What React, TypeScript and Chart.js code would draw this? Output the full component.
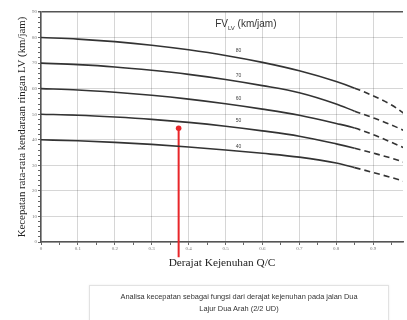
import React, { useEffect, useRef } from "react";
import { Chart, registerables } from "chart.js";

Chart.register(...registerables);

// Data
const qcValues = [0, 0.1, 0.2, 0.3, 0.4, 0.5, 0.6, 0.7, 0.8, 0.85, 0.9, 0.95, 1.0];
const fvLabels = ["80", "70", "60", "50", "40"];
const speed80 = [80, 79.4, 78.4, 77, 75.2, 73, 70.3, 67, 62.8, 60.2, 57.2, 53.6, 48.6];
const speed70 = [70, 69.4, 68.5, 67.2, 65.6, 63.6, 61.2, 58.4, 54, 51.2, 48.6, 45.8, 42.5];
const speed60 = [60, 59.5, 58.6, 57.4, 55.9, 54.1, 52, 49.6, 46.4, 44.6, 42, 39, 35.8];
const speed50 = [50, 49.6, 48.9, 48, 46.8, 45.3, 43.5, 41.4, 38.4, 36.7, 34.8, 32.8, 30.5];
const speed40 = [40, 39.6, 39, 38.2, 37.2, 36, 34.7, 33.2, 30.9, 29.1, 27.2, 25.2, 23.1];
const solidLimit = 0.85;
const labelQc = 0.535;
const labelSpeed = [75, 65.2, 56.2, 47.3, 37.5];
const headerQc = 0.472;
const headerSpeed = 85.2;
const markerQc = [0.373, 0.373];
const markerSpeed = [44.5, -6];
const captionLines = [
  "Analisa kecepatan sebagai fungsi dari derajat kejenuhan pada jalan Dua",
  "Lajur Dua Arah (2/2 UD)",
];

const allSpeeds = [speed80, speed70, speed60, speed50, speed40];

const labelPlugin = {
  id: "curveLabels",
  afterDatasetsDraw(chart: any) {
    const { ctx, scales } = chart;
    const x = scales.x;
    const y = scales.y;
    ctx.save();
    ctx.fillStyle = "#444";
    ctx.textAlign = "center";
    ctx.textBaseline = "middle";
    ctx.font = '5px "Liberation Sans"';
    fvLabels.forEach((t, i) => {
      ctx.fillText(t, x.getPixelForValue(labelQc), y.getPixelForValue(labelSpeed[i]));
    });
    const hx = x.getPixelForValue(headerQc);
    const hy = y.getPixelForValue(headerSpeed);
    ctx.textAlign = "left";
    ctx.fillStyle = "#333";
    ctx.font = '10px "Liberation Sans"';
    ctx.fillText("FV", hx, hy);
    let w = ctx.measureText("FV").width;
    ctx.font = '6px "Liberation Sans"';
    ctx.fillText("LV", hx + w, hy + 4);
    w += ctx.measureText("LV").width;
    ctx.font = '10px "Liberation Sans"';
    ctx.fillText(" (km/jam)", hx + w, hy);
    ctx.restore();
  },
};

export default function App() {
  const ref = useRef<HTMLCanvasElement | null>(null);

  useEffect(() => {
    const canvas = ref.current;
    if (!canvas) return;
    const curveSets = allSpeeds.map((arr, i) => ({
      label: fvLabels[i],
      data: qcValues.map((q, j) => ({ x: q, y: arr[j] })),
      borderColor: "#333",
      borderWidth: 1.6,
      pointRadius: 0,
      cubicInterpolationMode: "monotone" as const,
      segment: {
        borderDash: (c: any) => (c.p0.parsed.x >= solidLimit - 0.001 ? [6, 4] : undefined),
      },
    }));
    const marker = {
      label: "marker",
      data: markerQc.map((q, i) => ({ x: q, y: markerSpeed[i] })),
      borderColor: "#e8262a",
      backgroundColor: "#e8262a",
      borderWidth: 2,
      pointRadius: 2.8,
      pointBorderWidth: 0,
      clip: false as any,
    };
    const isMajorX = (v: number) => Math.round(v * 100) % 10 === 0;
    const isMajorY = (v: number) => Math.round(v) % 10 === 0;
    const chart = new Chart(canvas, {
      type: "line",
      data: { datasets: [...curveSets, marker] as any },
      options: {
        animation: false,
        responsive: false,
        layout: { padding: { left: 0, right: 0, top: 12, bottom: 48 } },
        plugins: { legend: { display: false }, tooltip: { enabled: false } },
        scales: {
          x: {
            type: "linear",
            min: 0,
            max: 0.981,
            afterFit: (s: any) => {
              s.height = 30;
            },
            ticks: {
              stepSize: 0.05,
              includeBounds: false,
              maxRotation: 0,
              autoSkip: false,
              padding: 1,
              color: "#777",
              font: { family: "Liberation Serif", size: 5 },
              callback: (v: any) => {
                const n = Number(v);
                if (!isMajorX(n)) return "";
                return n === 0 ? "0" : n.toFixed(1);
              },
            },
            grid: {
              color: (c: any) => (c.tick && isMajorX(c.tick.value) ? "rgba(0,0,0,0.16)" : "rgba(0,0,0,0)"),
              tickColor: "#666",
              tickLength: 3,
            },
            border: { color: "#555", width: 1.5 },
            title: {
              display: true,
              text: "Derajat Kejenuhan Q/C",
              color: "#222",
              font: { family: "Liberation Serif", size: 11.3 },
              padding: { top: 0, bottom: 2 },
            },
          },
          y: {
            type: "linear",
            min: 0,
            max: 90,
            afterFit: (s: any) => {
              s.width = 41;
            },
            ticks: {
              stepSize: 2,
              autoSkip: false,
              padding: 1,
              color: "#777",
              font: { family: "Liberation Serif", size: 5 },
              callback: (v: any) => (isMajorY(Number(v)) ? String(v) : ""),
            },
            grid: {
              color: (c: any) => {
                if (!c.tick) return "rgba(0,0,0,0)";
                if (c.tick.value === 90) return "#555";
                return isMajorY(c.tick.value) ? "rgba(0,0,0,0.16)" : "rgba(0,0,0,0)";
              },
              lineWidth: (c: any) => (c.tick && c.tick.value === 90 ? 1.5 : 1),
              tickColor: "#666",
              tickLength: 3,
            },
            border: { color: "#555", width: 1.5 },
            title: {
              display: true,
              text: "Kecepatan rata-rata kendaraan ringan LV (km/jam)",
              color: "#222",
              font: { family: "Liberation Serif", size: 10.8 },
              padding: { top: 16, bottom: 0 },
            },
          },
        },
      },
      plugins: [labelPlugin],
    });
    return () => chart.destroy();
  }, []);

  return (
    <div style={{ position: "fixed", left: 0, top: 0, width: 407, height: 320, background: "#fff" }}>
      <canvas ref={ref} width={407} height={320} style={{ display: "block" }} />
      <div
        style={{
          position: "absolute",
          left: 89,
          top: 285,
          width: 300,
          height: 36,
          border: "1px solid #e2e2e2",
          boxShadow: "0 0 2px rgba(0,0,0,0.08)",
          boxSizing: "border-box",
          fontFamily: '"Liberation Sans", sans-serif',
          fontSize: 7.4,
          lineHeight: "12px",
          color: "#333",
          textAlign: "center",
          paddingTop: 5,
        }}
      >
        {captionLines.map((l, i) => (
          <div key={i}>{l}</div>
        ))}
      </div>
    </div>
  );
}
